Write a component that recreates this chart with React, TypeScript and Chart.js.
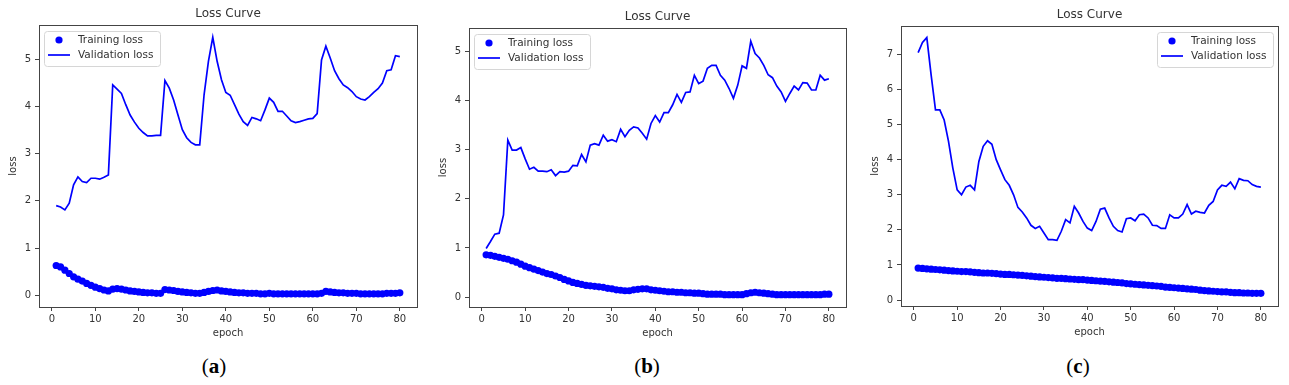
import React, { useEffect, useRef } from "react";
import { Chart, registerables } from "chart.js";

Chart.register(...registerables);

const epochs = [
  1, 2, 3, 4, 5, 6, 7, 8, 9, 10, 11, 12, 13, 14, 15, 16, 17, 18, 19, 20,
  21, 22, 23, 24, 25, 26, 27, 28, 29, 30, 31, 32, 33, 34, 35, 36, 37, 38, 39, 40,
  41, 42, 43, 44, 45, 46, 47, 48, 49, 50, 51, 52, 53, 54, 55, 56, 57, 58, 59, 60,
  61, 62, 63, 64, 65, 66, 67, 68, 69, 70, 71, 72, 73, 74, 75, 76, 77, 78, 79, 80,
];

const trainA = [
  0.63, 0.6, 0.53, 0.46, 0.39, 0.34, 0.3, 0.25, 0.21, 0.17,
  0.14, 0.11, 0.09, 0.13, 0.14, 0.13, 0.11, 0.09, 0.08, 0.07,
  0.06, 0.05, 0.05, 0.04, 0.04, 0.12, 0.11, 0.1, 0.08, 0.07,
  0.06, 0.05, 0.04, 0.04, 0.06, 0.08, 0.1, 0.11, 0.09, 0.08,
  0.07, 0.06, 0.05, 0.05, 0.04, 0.04, 0.04, 0.03, 0.03, 0.04,
  0.03, 0.03, 0.03, 0.03, 0.03, 0.03, 0.03, 0.03, 0.03, 0.03,
  0.03, 0.04, 0.08, 0.07, 0.06, 0.05, 0.05, 0.04, 0.04, 0.04,
  0.03, 0.03, 0.03, 0.03, 0.03, 0.03, 0.04, 0.04, 0.04, 0.05,
];
const valA = [
  1.9, 1.87, 1.81, 1.95, 2.34, 2.51, 2.41, 2.39, 2.48, 2.48,
  2.46, 2.5, 2.55, 4.46, 4.37, 4.28, 4.04, 3.82, 3.67, 3.54,
  3.45, 3.38, 3.38, 3.39, 3.39, 4.55, 4.39, 4.14, 3.82, 3.51,
  3.34, 3.24, 3.19, 3.19, 4.25, 4.96, 5.47, 4.96, 4.57, 4.3,
  4.24, 4.04, 3.84, 3.68, 3.6, 3.77, 3.74, 3.7, 3.93, 4.18,
  4.09, 3.9, 3.9, 3.8, 3.7, 3.66, 3.68, 3.71, 3.74, 3.75,
  3.85, 4.99, 5.28, 5.03, 4.76, 4.59, 4.46, 4.4, 4.32, 4.21,
  4.16, 4.14, 4.21, 4.3, 4.38, 4.5, 4.76, 4.78, 5.08, 5.06,
];

const trainB = [
  0.86, 0.85, 0.83, 0.81, 0.79, 0.77, 0.74, 0.71, 0.67, 0.63,
  0.6, 0.57, 0.54, 0.51, 0.48, 0.46, 0.43, 0.4, 0.36, 0.33,
  0.3, 0.28, 0.26, 0.24, 0.23, 0.22, 0.21, 0.2, 0.18, 0.17,
  0.15, 0.14, 0.13, 0.13, 0.15, 0.16, 0.17, 0.17, 0.15, 0.14,
  0.13, 0.12, 0.11, 0.11, 0.1, 0.1, 0.09, 0.09, 0.08, 0.08,
  0.07, 0.06, 0.06, 0.06, 0.06, 0.05, 0.05, 0.05, 0.05, 0.05,
  0.07, 0.09, 0.1, 0.09, 0.08, 0.07, 0.06, 0.05, 0.05, 0.05,
  0.05, 0.05, 0.05, 0.05, 0.05, 0.05, 0.05, 0.05, 0.06, 0.06,
];
const valB = [
  0.99, 1.13, 1.28, 1.3, 1.67, 3.19, 2.99, 2.99, 3.04, 2.81,
  2.6, 2.64, 2.56, 2.56, 2.55, 2.59, 2.47, 2.55, 2.54, 2.56,
  2.68, 2.67, 2.9, 2.75, 3.09, 3.12, 3.09, 3.29, 3.17, 3.2,
  3.16, 3.41, 3.26, 3.39, 3.46, 3.44, 3.33, 3.21, 3.53, 3.69,
  3.56, 3.75, 3.75, 3.91, 4.12, 3.96, 4.16, 4.17, 4.51, 4.34,
  4.39, 4.65, 4.71, 4.71, 4.51, 4.41, 4.24, 4.04, 4.31, 4.7,
  4.65, 5.2, 4.95, 4.86, 4.71, 4.52, 4.46, 4.29, 4.17, 3.98,
  4.14, 4.29, 4.21, 4.36, 4.35, 4.21, 4.21, 4.51, 4.41, 4.44,
];

const trainC = [
  0.91, 0.9, 0.89, 0.88, 0.87, 0.86, 0.85, 0.84, 0.83, 0.82,
  0.81, 0.81, 0.8, 0.79, 0.78, 0.77, 0.77, 0.76, 0.75, 0.74,
  0.73, 0.73, 0.72, 0.71, 0.7, 0.69, 0.68, 0.67, 0.66, 0.65,
  0.64, 0.63, 0.62, 0.62, 0.61, 0.6, 0.59, 0.58, 0.58, 0.57,
  0.56, 0.55, 0.54, 0.53, 0.52, 0.51, 0.5, 0.49, 0.47, 0.46,
  0.45, 0.44, 0.43, 0.42, 0.41, 0.4, 0.39, 0.37, 0.36, 0.35,
  0.34, 0.33, 0.32, 0.31, 0.3, 0.28, 0.27, 0.26, 0.25, 0.24,
  0.23, 0.23, 0.22, 0.21, 0.21, 0.2, 0.2, 0.19, 0.19, 0.19,
];
const valC = [
  7.05, 7.34, 7.48, 6.41, 5.42, 5.42, 5.13, 4.52, 3.76, 3.14,
  3.0, 3.22, 3.27, 3.14, 3.95, 4.38, 4.54, 4.44, 4.0, 3.71,
  3.43, 3.27, 3.0, 2.64, 2.51, 2.34, 2.13, 2.04, 2.1, 1.91,
  1.72, 1.72, 1.7, 1.96, 2.29, 2.2, 2.67, 2.48, 2.24, 2.05,
  1.98, 2.24, 2.59, 2.62, 2.34, 2.1, 1.98, 1.94, 2.32, 2.34,
  2.26, 2.43, 2.45, 2.34, 2.13, 2.12, 2.04, 2.04, 2.43, 2.34,
  2.34, 2.45, 2.72, 2.45, 2.53, 2.5, 2.48, 2.7, 2.81, 3.14,
  3.27, 3.24, 3.36, 3.17, 3.46, 3.41, 3.4, 3.29, 3.24, 3.22,
];

const xTicksStep = 10;
const titleText = "Loss Curve";
const xLabel = "epoch";
const yLabel = "loss";
const seriesLabels = ["Training loss", "Validation loss"];
const captions = ["a", "b", "c"];

const BLUE = "#0000ff";
const AXIS = "#444444";
const TEXT = "#333333";
const FONT = '"DejaVu Sans", sans-serif';

const framePlugin = {
  id: "frameBox",
  afterDraw(chart: any) {
    const { ctx, chartArea } = chart;
    ctx.save();
    ctx.strokeStyle = AXIS;
    ctx.lineWidth = 1;
    ctx.strokeRect(
      Math.round(chartArea.left) + 0.5,
      Math.round(chartArea.top) + 0.5,
      Math.round(chartArea.right - chartArea.left),
      Math.round(chartArea.bottom - chartArea.top)
    );
    ctx.restore();
  },
};

const insideLegend = {
  id: "insideLegend",
  afterDatasetsDraw(chart: any, _args: any, opts: any) {
    const { ctx, chartArea } = chart;
    const w = 116;
    const h = 35;
    const left =
      opts.corner === "right" ? chartArea.right - 5 - w : chartArea.left + 5;
    const top = chartArea.top + 5.5;
    ctx.save();
    ctx.beginPath();
    ctx.roundRect(Math.round(left) + 0.5, Math.round(top) + 0.5, w, h, 3);
    ctx.fillStyle = "rgba(255,255,255,0.85)";
    ctx.fill();
    ctx.strokeStyle = "#d6d6d6";
    ctx.lineWidth = 1;
    ctx.stroke();
    const ds = chart.data.datasets;
    // marker item
    ctx.fillStyle = BLUE;
    ctx.beginPath();
    ctx.arc(left + 15, top + 9.5, 3.6, 0, Math.PI * 2);
    ctx.fill();
    // line item
    ctx.strokeStyle = BLUE;
    ctx.lineWidth = 1.7;
    ctx.beginPath();
    ctx.moveTo(left + 4, top + 24.5);
    ctx.lineTo(left + 26, top + 24.5);
    ctx.stroke();
    ctx.fillStyle = TEXT;
    ctx.font = `10.5px ${FONT}`;
    ctx.textBaseline = "middle";
    ctx.textAlign = "left";
    ctx.fillText(ds[0].label, left + 34, top + 9.5);
    ctx.fillText(ds[1].label, left + 34, top + 24.5);
    ctx.restore();
  },
};

type PanelProps = {
  train: number[];
  val: number[];
  yMin: number;
  yMax: number;
  yStep: number;
  width: number;
  padLeft: number;
  padRight: number;
  yWidth: number;
  plotTop: number;
  plotBottom: number;
  corner: "left" | "right";
};

const CANVAS_H = 345;
const X_AXIS_H = 36;

function Panel(p: PanelProps) {
  const ref = useRef<HTMLCanvasElement | null>(null);
  useEffect(() => {
    if (!ref.current) return;
    const trainPts = epochs.map((e, i) => ({ x: e, y: p.train[i] }));
    const valPts = epochs.map((e, i) => ({ x: e, y: p.val[i] }));
    const titleLine = 14.4;
    const titlePadTop = p.plotTop - titleLine - 3.6;
    const chart = new Chart(ref.current, {
      type: "scatter",
      data: {
        datasets: [
          {
            label: seriesLabels[0],
            data: trainPts,
            showLine: false,
            pointRadius: 3.6,
            pointBackgroundColor: BLUE,
            pointBorderWidth: 0,
            borderColor: BLUE,
            backgroundColor: BLUE,
          },
          {
            label: seriesLabels[1],
            data: valPts,
            showLine: true,
            pointRadius: 0,
            borderColor: BLUE,
            backgroundColor: BLUE,
            borderWidth: 1.7,
            tension: 0,
          },
        ],
      },
      options: {
        animation: false,
        responsive: false,
        events: [],
        layout: {
          padding: {
            left: p.padLeft,
            right: p.padRight,
            top: 0,
            bottom: CANVAS_H - p.plotBottom - X_AXIS_H,
          },
        },
        plugins: {
          legend: { display: false },
          tooltip: { enabled: false },
          title: {
            display: true,
            text: titleText,
            fullSize: false,
            color: TEXT,
            font: { family: FONT, size: 12, weight: "normal" },
            padding: { top: titlePadTop, bottom: 3.6 },
          },
          insideLegend: { corner: p.corner },
        } as any,
        scales: {
          x: {
            type: "linear",
            min: -2.95,
            max: 83.95,
            ticks: {
              stepSize: xTicksStep,
              includeBounds: false,
              color: TEXT,
              font: { family: FONT, size: 10 },
              padding: 2,
              maxRotation: 0,
            },
            grid: {
              display: true,
              drawOnChartArea: false,
              drawTicks: true,
              tickLength: 4,
              color: AXIS,
            },
            border: { display: true, color: AXIS },
            title: {
              display: true,
              text: xLabel,
              color: TEXT,
              font: { family: FONT, size: 10 },
              padding: { top: 0, bottom: 4 },
            },
            afterFit: (s: any) => {
              s.height = X_AXIS_H;
              s.paddingLeft = 0;
              s.paddingRight = 0;
              s.paddingTop = 0;
              s.paddingBottom = 0;
            },
          },
          y: {
            type: "linear",
            min: p.yMin,
            max: p.yMax,
            ticks: {
              stepSize: p.yStep,
              includeBounds: false,
              color: TEXT,
              font: { family: FONT, size: 10 },
              padding: 4,
            },
            grid: {
              display: true,
              drawOnChartArea: false,
              drawTicks: true,
              tickLength: 4,
              color: AXIS,
            },
            border: { display: true, color: AXIS },
            title: {
              display: true,
              text: yLabel,
              color: TEXT,
              font: { family: FONT, size: 10 },
              padding: { top: 4, bottom: 0 },
            },
            afterFit: (s: any) => {
              s.width = p.yWidth;
              s.paddingLeft = 0;
              s.paddingRight = 0;
              s.paddingTop = 0;
              s.paddingBottom = 0;
            },
          },
        },
      } as any,
      plugins: [framePlugin, insideLegend],
    });
    return () => chart.destroy();
  }, []);
  return (
    <canvas
      ref={ref}
      width={p.width}
      height={CANVAS_H}
      style={{ display: "block", width: p.width, height: CANVAS_H }}
    />
  );
}

function Caption({ letter, center }: { letter: string; center: number }) {
  return (
    <div
      style={{
        position: "absolute",
        left: center - 40,
        width: 80,
        top: 353,
        textAlign: "center",
        fontFamily: '"Liberation Serif", "DejaVu Serif", serif',
        fontSize: 21,
        lineHeight: "26px",
        color: "#000",
      }}
    >
      (<b>{letter}</b>)
    </div>
  );
}

export default function App() {
  return (
    <div
      style={{
        position: "absolute",
        left: 0,
        top: 0,
        width: 1289,
        height: 385,
        background: "#fff",
        overflow: "hidden",
      }}
    >
      <div style={{ position: "absolute", left: 0, top: 0 }}>
        <Panel
          train={trainA}
          val={valA}
          yMin={-0.25}
          yMax={5.73}
          yStep={1}
          width={430}
          padLeft={3}
          padRight={13}
          yWidth={36}
          plotTop={25}
          plotBottom={307}
          corner="left"
        />
      </div>
      <div style={{ position: "absolute", left: 430, top: 0 }}>
        <Panel
          train={trainB}
          val={valB}
          yMin={-0.2}
          yMax={5.47}
          yStep={1}
          width={430}
          padLeft={3}
          padRight={14}
          yWidth={36}
          plotTop={28}
          plotBottom={307}
          corner="left"
        />
      </div>
      <div style={{ position: "absolute", left: 860, top: 0 }}>
        <Panel
          train={trainC}
          val={valC}
          yMin={-0.17}
          yMax={7.81}
          yStep={1}
          width={429}
          padLeft={5}
          padRight={11}
          yWidth={36}
          plotTop={26}
          plotBottom={306}
          corner="right"
        />
      </div>
      <Caption letter={captions[0]} center={214} />
      <Caption letter={captions[1]} center={647} />
      <Caption letter={captions[2]} center={1078} />
    </div>
  );
}
